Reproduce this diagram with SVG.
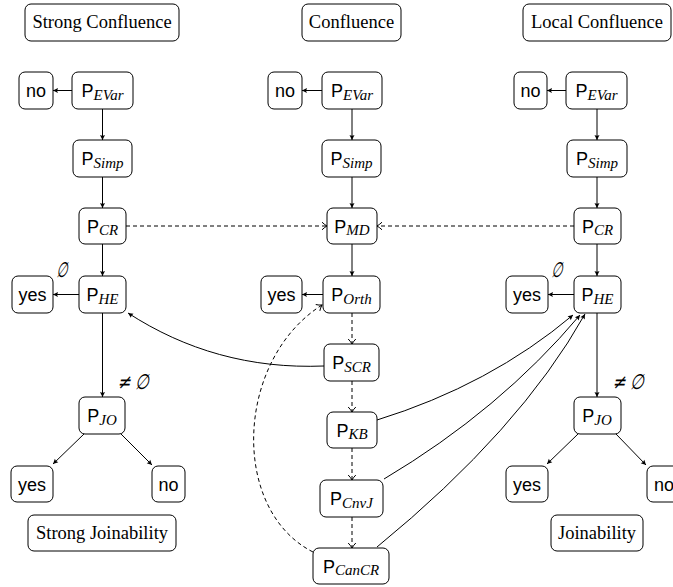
<svg xmlns="http://www.w3.org/2000/svg" width="673" height="587" viewBox="0 0 673 587">
<defs>
<marker id="ah" markerUnits="userSpaceOnUse" markerWidth="8" markerHeight="8" refX="6" refY="4" orient="auto">
<path d="M1,1.5 L6,4 L1,6.5 Q2.5,4 1,1.5 z" fill="#000"/>
</marker>
<marker id="ao" markerUnits="userSpaceOnUse" markerWidth="10" markerHeight="10" refX="6" refY="5" orient="auto">
<path d="M1,1.2 Q4,4 6,5 Q4,6 1,8.8" fill="none" stroke="#000" stroke-width="1"/>
</marker>
<style>
rect{fill:#fff;stroke:#000;stroke-width:1}
.p{font-family:"Liberation Sans",Arial,sans-serif;font-size:18px;text-anchor:middle}
.s{font-family:"Liberation Serif","Times New Roman",serif;font-style:italic;font-size:15px}
.t{font-family:"Liberation Serif","Times New Roman",serif;font-size:18.5px;text-anchor:middle}
.e{font-family:"DejaVu Sans",sans-serif;font-style:normal;font-size:21px;fill:#000}
.c path,.c line{fill:none;stroke:#000;stroke-width:1}
.c .sl{marker-end:url(#ah)}
.c .d{stroke-dasharray:4,3;marker-end:url(#ao)}
</style>
</defs>
<rect width="673" height="587" fill="#fff" style="stroke:none"/>

<g id="connectors" class="c">
<!-- left column -->
<line class="sl" x1="72" y1="90.5" x2="53" y2="90.5"/>
<line class="sl" x1="102.5" y1="109" x2="102.5" y2="140"/>
<line class="sl" x1="102.5" y1="177" x2="102.5" y2="208"/>
<line class="sl" x1="102.5" y1="244" x2="102.5" y2="276"/>
<line class="sl" x1="79" y1="294.5" x2="53" y2="294.5"/>
<line class="sl" x1="102.5" y1="313" x2="102.5" y2="397"/>
<line class="sl" x1="84" y1="434" x2="53" y2="464"/>
<line class="sl" x1="121" y1="434" x2="152" y2="465"/>
<!-- middle column -->
<line class="sl" x1="322" y1="90.5" x2="302" y2="90.5"/>
<line class="sl" x1="352" y1="109" x2="352" y2="140"/>
<line class="sl" x1="352" y1="177" x2="352" y2="208"/>
<line class="sl" x1="352" y1="244" x2="352" y2="276"/>
<line class="sl" x1="323" y1="294.5" x2="302" y2="294.5"/>
<line class="d" x1="352" y1="313" x2="352" y2="344"/>
<line class="d" x1="352" y1="381" x2="352" y2="412"/>
<line class="d" x1="352" y1="448" x2="352" y2="480"/>
<line class="d" x1="352" y1="517" x2="352" y2="548"/>
<!-- right column -->
<line class="sl" x1="566" y1="90.5" x2="547" y2="90.5"/>
<line class="sl" x1="597" y1="109" x2="597" y2="140"/>
<line class="sl" x1="597" y1="177" x2="597" y2="208"/>
<line class="sl" x1="597" y1="244" x2="597" y2="276"/>
<line class="sl" x1="574" y1="294.5" x2="548" y2="294.5"/>
<line class="sl" x1="597" y1="313" x2="597" y2="397"/>
<line class="sl" x1="578" y1="434" x2="547" y2="464"/>
<line class="sl" x1="616" y1="434" x2="646" y2="465"/>
<!-- cross links -->
<line class="d" x1="126" y1="226" x2="327" y2="226"/>
<line class="d" x1="574" y1="226" x2="377" y2="226"/>
<path class="sl" d="M324,366 C250,369 185,350 128,313"/>
<path class="d" d="M313,552 C230,510 235,360 322,305"/>
<path class="sl" d="M377,420 Q490,385 573,315"/>
<path class="sl" d="M384,479 Q500,410 580,315"/>
<path class="sl" d="M377,547 Q520,430 585,314"/>
</g>

<g id="edge-labels">
<text class="e" transform="translate(56,277) skewX(-14) scale(0.6,1)">∅</text>
<text class="e" transform="translate(117,389) skewX(-14) scale(0.75,1)">≠<tspan dx="6">∅</tspan></text>
<text class="e" transform="translate(551,277) skewX(-14) scale(0.6,1)">∅</text>
<text class="e" transform="translate(612,389) skewX(-14) scale(0.75,1)">≠<tspan dx="6">∅</tspan></text>
</g>

<!-- titles -->
<g id="strong-confluence"><rect x="25" y="4" width="154" height="37" rx="6"/><text class="t" x="102" y="28">Strong Confluence</text></g>
<g id="confluence"><rect x="302" y="4" width="99" height="37" rx="6"/><text class="t" x="351.5" y="28">Confluence</text></g>
<g id="local-confluence"><rect x="523" y="4" width="148" height="37" rx="6"/><text class="t" x="597" y="28">Local Confluence</text></g>

<!-- left column -->
<g id="l-no1"><rect x="19" y="72" width="34" height="37" rx="6"/><text class="p" x="36" y="97">no</text></g>
<g id="l-evar"><rect x="72" y="72" width="61" height="37" rx="6"/><text class="p" x="102.5" y="97">P<tspan class="s" dy="2.5">EVar</tspan></text></g>
<g id="l-simp"><rect x="73" y="140" width="59" height="37" rx="6"/><text class="p" x="102.5" y="165">P<tspan class="s" dy="2.5">Simp</tspan></text></g>
<g id="l-cr"><rect x="79" y="208" width="47" height="36" rx="6"/><text class="p" x="102.5" y="232.5">P<tspan class="s" dy="2.5">CR</tspan></text></g>
<g id="l-yes1"><rect x="12" y="276" width="41" height="37" rx="6"/><text class="p" x="32.5" y="301">yes</text></g>
<g id="l-he"><rect x="79" y="276" width="47" height="37" rx="6"/><text class="p" x="102.5" y="301">P<tspan class="s" dy="2.5">HE</tspan></text></g>
<g id="l-jo"><rect x="79" y="397" width="46" height="37" rx="6"/><text class="p" x="102" y="422">P<tspan class="s" dy="2.5">JO</tspan></text></g>
<g id="l-yes2"><rect x="11" y="466" width="42" height="36" rx="6"/><text class="p" x="32" y="490.5">yes</text></g>
<g id="l-no2"><rect x="152" y="466" width="33" height="36" rx="6"/><text class="p" x="168.5" y="490.5">no</text></g>
<g id="strong-joinability"><rect x="28" y="515" width="148" height="36" rx="6"/><text class="t" x="102" y="539">Strong Joinability</text></g>

<!-- middle column -->
<g id="m-no"><rect x="268" y="72" width="34" height="37" rx="6"/><text class="p" x="285" y="97">no</text></g>
<g id="m-evar"><rect x="322" y="72" width="60" height="37" rx="6"/><text class="p" x="352" y="97">P<tspan class="s" dy="2.5">EVar</tspan></text></g>
<g id="m-simp"><rect x="322" y="140" width="59" height="37" rx="6"/><text class="p" x="351.5" y="165">P<tspan class="s" dy="2.5">Simp</tspan></text></g>
<g id="m-md"><rect x="327" y="208" width="50" height="36" rx="6"/><text class="p" x="352" y="232.5">P<tspan class="s" dy="2.5">MD</tspan></text></g>
<g id="m-yes"><rect x="261" y="276" width="41" height="37" rx="6"/><text class="p" x="281.5" y="301">yes</text></g>
<g id="m-orth"><rect x="323" y="276" width="57" height="37" rx="6"/><text class="p" x="351.5" y="301">P<tspan class="s" dy="2.5">Orth</tspan></text></g>
<g id="m-scr"><rect x="324" y="344" width="55" height="37" rx="6"/><text class="p" x="351.5" y="369">P<tspan class="s" dy="2.5">SCR</tspan></text></g>
<g id="m-kb"><rect x="327" y="412" width="50" height="36" rx="6"/><text class="p" x="352" y="436.5">P<tspan class="s" dy="2.5">KB</tspan></text></g>
<g id="m-cnvj"><rect x="320" y="480" width="63" height="37" rx="6"/><text class="p" x="351.5" y="505">P<tspan class="s" dy="2.5">CnvJ</tspan></text></g>
<g id="m-cancr"><rect x="313" y="548" width="76" height="36" rx="6"/><text class="p" x="351" y="572.5">P<tspan class="s" dy="2.5">CanCR</tspan></text></g>

<!-- right column -->
<g id="r-no1"><rect x="514" y="72" width="33" height="37" rx="6"/><text class="p" x="530.5" y="97">no</text></g>
<g id="r-evar"><rect x="566" y="72" width="61" height="37" rx="6"/><text class="p" x="596.5" y="97">P<tspan class="s" dy="2.5">EVar</tspan></text></g>
<g id="r-simp"><rect x="567" y="140" width="60" height="37" rx="6"/><text class="p" x="597" y="165">P<tspan class="s" dy="2.5">Simp</tspan></text></g>
<g id="r-cr"><rect x="574" y="208" width="47" height="36" rx="6"/><text class="p" x="597.5" y="232.5">P<tspan class="s" dy="2.5">CR</tspan></text></g>
<g id="r-yes1"><rect x="506" y="276" width="42" height="37" rx="6"/><text class="p" x="527" y="301">yes</text></g>
<g id="r-he"><rect x="574" y="276" width="47" height="37" rx="6"/><text class="p" x="597.5" y="301">P<tspan class="s" dy="2.5">HE</tspan></text></g>
<g id="r-jo"><rect x="574" y="397" width="47" height="37" rx="6"/><text class="p" x="597" y="422">P<tspan class="s" dy="2.5">JO</tspan></text></g>
<g id="r-yes2"><rect x="506" y="466" width="42" height="36" rx="6"/><text class="p" x="527" y="490.5">yes</text></g>
<g id="r-no2"><rect x="647" y="466" width="34" height="36" rx="6"/><text class="p" x="664" y="490.5">no</text></g>
<g id="joinability"><rect x="551" y="515" width="92" height="36" rx="6"/><text class="t" x="597" y="539">Joinability</text></g>
</svg>
